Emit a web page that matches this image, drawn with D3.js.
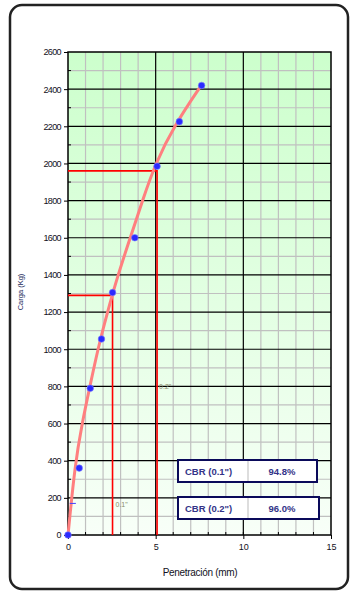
<!DOCTYPE html>
<html>
<head>
<meta charset="utf-8">
<script src="https://cdn.jsdelivr.net/npm/d3@7"></script>
<style>
  body { margin: 0; background: #fff; }
  text { font-family: "Liberation Sans", Arial, sans-serif; }
</style>
</head>
<body>
<svg id="chart" width="358" height="594"></svg>
<script>
// lab points (mm, kg)
let penetration = [0, 0.64, 1.27, 1.91, 2.54, 3.81, 5.08, 6.35, 7.62];
let load = [0, 360, 790, 1055, 1305, 1600, 1985, 2225, 2420];

// fitted curve
let curveX = [0, 0.4, 0.8, 1.25, 1.7, 2.25, 2.85, 3.55, 4.25, 4.96, 6.1, 7.6];
let curveY = [0, 380, 600, 800, 1000, 1200, 1400, 1600, 1800, 1995, 2210, 2420];

// corrected loads at 0.1" and 0.2"
let refPen = [2.54, 5.08];
let refLoad = [1290, 1960];
let refLabels = ['0.1"', '0.2"'];

let cbrLabels = ['CBR (0.1")', 'CBR (0.2")'];
let cbrValues = ['94.8%', '96.0%'];

let xTicks = [0, 5, 10, 15];
let yTicks = d3.range(0, 2601, 200);

let svg = d3.select("#chart");

// outer frame
svg.append("rect")
.attr("x", 10).attr("y", 5)
.attr("width", 338).attr("height", 584)
.attr("rx", 12)
.style("fill", "white")
.style("stroke", "#222")
.style("stroke-width", 2.5);

let pLeft = 68, pRight = 331, pTop = 52, pBottom = 535;

let x = d3.scaleLinear().domain([0, 15]).range([pLeft, pRight]);
let y = d3.scaleLinear().domain([0, 2600]).range([pBottom, pTop]);

// background gradient
let grad = svg.append("defs").append("linearGradient")
.attr("id", "bg").attr("x1", 0).attr("y1", 0).attr("x2", 0).attr("y2", 1);
grad.append("stop").attr("offset", "0%").attr("stop-color", "#ccffcc");
grad.append("stop").attr("offset", "100%").attr("stop-color", "#f8fff8");

svg.append("rect")
.attr("x", pLeft).attr("y", pTop)
.attr("width", pRight - pLeft).attr("height", pBottom - pTop)
.style("fill", "url(#bg)");

// minor grid
svg.append("g")
.selectAll("line")
.data(d3.range(1, 15).filter(d => d % 5 != 0))
.join("line")
.attr("x1", d => x(d)).attr("x2", d => x(d))
.attr("y1", pTop).attr("y2", pBottom)
.style("stroke", "#c0c0c0").style("stroke-width", 1.2);

svg.append("g")
.selectAll("line")
.data(d3.range(100, 2600, 200))
.join("line")
.attr("x1", pLeft).attr("x2", pRight)
.attr("y1", d => y(d)).attr("y2", d => y(d))
.style("stroke", "#c0c0c0").style("stroke-width", 1.2);

// major grid
svg.append("g")
.selectAll("line")
.data([5, 10])
.join("line")
.attr("x1", d => x(d)).attr("x2", d => x(d))
.attr("y1", pTop).attr("y2", pBottom)
.style("stroke", "black").style("stroke-width", 1.2);

svg.append("g")
.selectAll("line")
.data(yTicks.filter(d => d > 0 && d < 2600))
.join("line")
.attr("x1", pLeft).attr("x2", pRight)
.attr("y1", d => y(d)).attr("y2", d => y(d))
.style("stroke", "black").style("stroke-width", 1.2);

// plot border
svg.append("rect")
.attr("x", pLeft).attr("y", pTop)
.attr("width", pRight - pLeft).attr("height", pBottom - pTop)
.style("fill", "none").style("stroke", "black").style("stroke-width", 1.5);

// minor ticks
svg.append("g")
.selectAll("line")
.data(d3.range(100, 2600, 200))
.join("line")
.attr("x1", pLeft).attr("x2", pLeft + 3)
.attr("y1", d => y(d)).attr("y2", d => y(d))
.style("stroke", "black");

svg.append("g")
.selectAll("line")
.data(d3.range(1, 15))
.join("line")
.attr("x1", d => x(d)).attr("x2", d => x(d))
.attr("y1", pBottom).attr("y2", pBottom - 3)
.style("stroke", "black");

// axes
let yAxis = svg.append("g")
.attr("transform", `translate(${pLeft}, 0)`)
.call(d3.axisLeft(y).tickValues(yTicks).tickFormat(d3.format("d")).tickSize(4).tickSizeOuter(0));
yAxis.select(".domain").remove();
yAxis.selectAll("text").style("font-size", "9px").style("fill", "#111122").style("letter-spacing", "-0.6px");

let xAxis = svg.append("g")
.attr("transform", `translate(0, ${pBottom})`)
.call(d3.axisBottom(x).tickValues(xTicks).tickSize(4).tickSizeOuter(0));
xAxis.select(".domain").remove();
xAxis.selectAll("text").style("font-size", "9px").style("fill", "#111122").attr("dy", "0.9em");

// axis titles
svg.append("text")
.attr("transform", "rotate(-90)")
.attr("x", -292).attr("y", 23)
.style("text-anchor", "middle")
.style("font-size", "7.5px")
.style("fill", "#1a2a5a")
.text("Carga (Kg)");

svg.append("text")
.attr("x", 200).attr("y", 576)
.style("text-anchor", "middle")
.style("font-size", "10px")
.style("fill", "#111122")
.style("letter-spacing", "-0.3px")
.text("Penetración (mm)");

// red reference lines
refPen.forEach((p, i) => {
    svg.append("polyline")
    .attr("points", `${x(0)},${y(refLoad[i])} ${x(p)},${y(refLoad[i])} ${x(p)},${y(0)}`)
    .style("fill", "none")
    .style("stroke", "red")
    .style("stroke-width", 1.6);
});

svg.append("text")
.attr("x", x(refPen[0]) + 3).attr("y", y(150))
.style("font-size", "7px").style("fill", "#8a8a6a")
.text(refLabels[0]);

svg.append("text")
.attr("x", x(refPen[1]) + 2).attr("y", y(800) + 3)
.style("font-size", "7px").style("fill", "#8a8a6a")
.text(refLabels[1]);

// fitted curve
let line = d3.line()
.x(d => x(d[0])).y(d => y(d[1]))
.curve(d3.curveBasis);

svg.append("path")
.attr("d", line(d3.zip(curveX, curveY)))
.style("fill", "none")
.style("stroke", "#ff7f7f")
.style("stroke-width", 3);

// points
svg.append("g")
.selectAll("circle")
.data(d3.zip(penetration, load))
.join("circle")
.attr("cx", d => x(d[0]))
.attr("cy", d => y(d[1]))
.attr("r", 3.3)
.style("fill", "#2a2aff")
.style("stroke", "#8080ff")
.style("stroke-width", 0.6);

// small marker near origin
svg.append("line")
.attr("x1", x(0.1)).attr("x2", x(0.45))
.attr("y1", y(170)).attr("y2", y(170))
.style("stroke", "#4040ff").style("stroke-width", 1);

// CBR result boxes
let boxes = svg.append("g")
.selectAll("g")
.data(d3.zip(cbrLabels, cbrValues))
.join("g")
.attr("transform", (d, i) => `translate(178, ${[460, 497][i]})`);

boxes.append("rect")
.attr("width", (d, i) => [139, 141][i])
.attr("height", 22)
.style("fill", "white")
.style("stroke", "#0a0a5a")
.style("stroke-width", 2);

boxes.append("line")
.attr("x1", 70).attr("x2", 70)
.attr("y1", 1).attr("y2", 21)
.style("stroke", "#bbbbbb");

boxes.append("text")
.attr("x", 7).attr("y", 15)
.style("font-size", "9.5px").style("font-weight", "bold")
.style("fill", "#333388")
.text(d => d[0]);

boxes.append("text")
.attr("x", 104).attr("y", 15)
.style("text-anchor", "middle")
.style("font-size", "9.5px").style("font-weight", "bold")
.style("fill", "#333388")
.text(d => d[1]);
</script>
</body>
</html>
